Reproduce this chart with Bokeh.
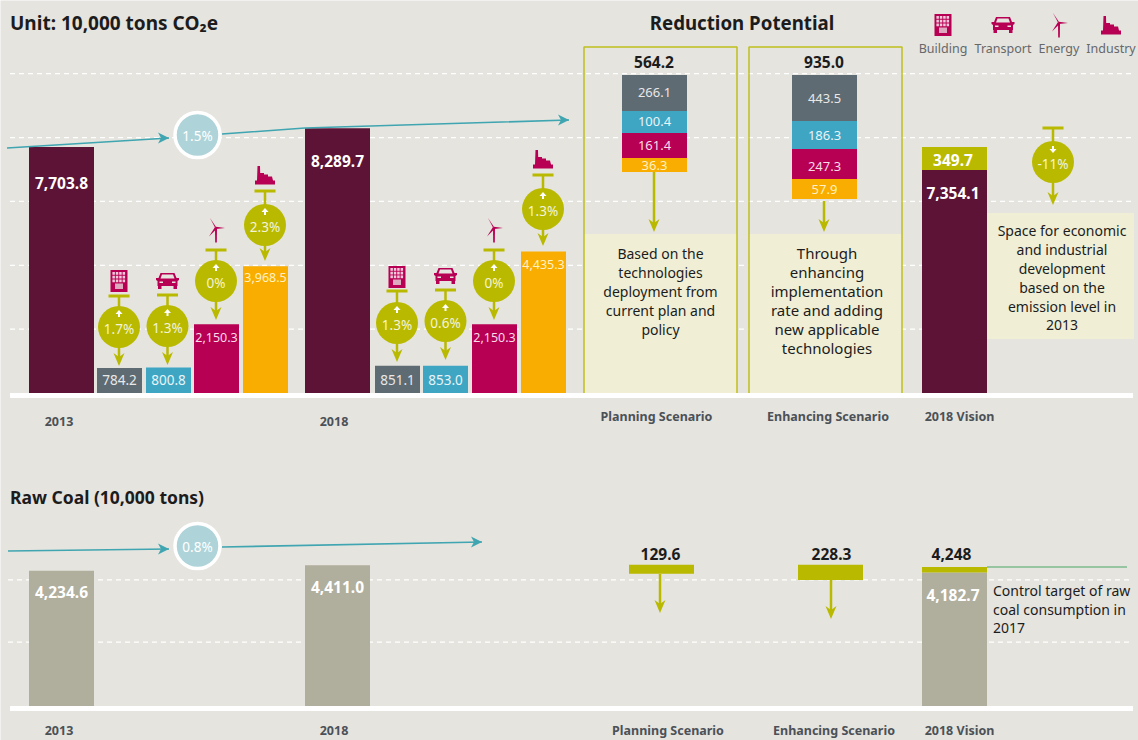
from bokeh.plotting import figure
from bokeh.models import Range1d
from bokeh.core.properties import value
from bokeh.embed import file_html
from bokeh.resources import INLINE

# ---- data ----
years = ["2013", "2018"]
total_co2 = [7703.8, 8289.7]
sector_names = ["Building", "Transport", "Energy", "Industry"]
sectors_2013 = [784.2, 800.8, 2150.3, 3968.5]
sectors_2018 = [851.1, 853.0, 2150.3, 4435.3]
growth_2013 = ["1.7%", "1.3%", "0%", "2.3%"]
growth_2018 = ["1.3%", "0.6%", "0%", "1.3%"]
growth_total = "1.5%"
growth_coal = "0.8%"
grid_co2 = [2000, 4000, 6000, 8000, 10000]
grid_coal = [2000, 3950]

planning_labels = ["266.1", "100.4", "161.4", "36.3"]
enhancing_labels = ["443.5", "186.3", "247.3", "57.9"]
planning_total = "564.2"
enhancing_total = "935.0"
# the infographic's stacks are not to scale: drawn heights, in axis units
planning_drawn = [1127, 689, 783, 438]
enhancing_drawn = [1441, 877, 940, 626]
stack_top = 9959
vision_drawn_base = 6984
vision_drawn_total = 7704
vision_base_label = "7,354.1"
vision_cut_label = "349.7"
vision_gap_label = "-11%"

raw_coal = [4234.6, 4411.0]
coal_labels = ["4,234.6", "4,411.0"]
coal_vision = 4182.7
coal_vision_top_drawn = 4357
coal_cut_labels = ["129.6", "228.3"]
coal_cut_drawn = [282, 470]
coal_cut_top = 4420
coal_vision_labels = ["4,248", "4,182.7"]

text_planning = ["Based on the", "technologies", "deployment from", "current plan and", "policy"]
text_enhancing = ["Through", "enhancing", "implementation", "rate and adding", "new applicable", "technologies"]
text_space = ["Space for economic", "and industrial", "development", "based on the", "emission level in", "2013"]
text_control = ["Control target of raw", "coal consumption in", "2017"]

# ---- styles / layout ----
BG = "#e5e4df"; MAROON = "#5c1336"; GRAY = "#5f6b72"; BLUE = "#3ea5c3"; MAGENTA = "#b70053"
ORANGE = "#f9ad00"; OLIVE = "#b9b900"; TEAL = "#3fa5b0"; PALE = "#aed4d9"; NOTE = "#f0efd6"
COAL = "#b0ae9d"; INK = "#1c1c1c"; AXIS = "#4b5157"; LEG = "#66686a"
FONT = value("Noto Sans")
K = 0.03193  # px per unit
BASE_CO2, BASE_COAL = 393, 706

p = figure(width=1138, height=740, output_backend="svg", toolbar_location=None,
           x_range=Range1d(0.5, 1138.5), y_range=Range1d(740.5, 0.5),
           x_axis_location=None, y_axis_location=None, min_border=0,
           background_fill_color=BG, border_fill_color=BG, outline_line_color=None,
           styles={"position": "absolute", "left": "0px", "top": "0px"})
p.grid.visible = False
p.extra_y_ranges = {
    "co2": Range1d(-(740.5 - BASE_CO2) / K, (BASE_CO2 - 0.5) / K),
    "coal": Range1d(-(740.5 - BASE_COAL) / K, (BASE_COAL - 0.5) / K),
}


def txt(x, y, s, size, color=INK, bold=False, align="center"):
    p.text(x=[x], y=[y], text=[s], text_font=FONT, text_font_size=f"{size}px", text_color=color,
           text_font_style="bold" if bold else "normal", text_align=align, text_baseline="middle")


def poly(xs, ys, color):
    p.patch(xs, ys, fill_color=color, line_color=None)


def arrow_down(x, y0, y1, color=OLIVE):
    p.line([x, x], [y0, y1 - 6], line_color=color, line_width=2.5)
    poly([x, x - 5.5, x, x + 5.5], [y1, y1 - 13, y1 - 9, y1 - 13], color)


def arrow_teal(xs, ys):
    p.line(xs, ys, line_color=TEAL, line_width=1.6)
    x, y = xs[-1], ys[-1]
    poly([x, x - 11, x - 8, x - 11], [y, y - 5.5, y, y + 5.5], TEAL)


def callout(cx, cy, tee, tip, label, down=False):
    p.quad(left=[cx - 10.5], right=[cx + 10.5], top=[tee - 1.5], bottom=[tee + 1.5], fill_color=OLIVE, line_color=None)
    p.line([cx, cx], [tee, cy], line_color=OLIVE, line_width=2.5)
    arrow_down(cx, cy, tip)
    p.circle(x=[cx], y=[cy], radius=21, fill_color=OLIVE, line_color=None)
    ay = cy - 14
    if down:
        poly([cx - 3.5, cx + 3.5, cx], [ay + 1, ay + 1, ay + 5], "white")
        p.quad(left=[cx - 1], right=[cx + 1], top=[ay - 2], bottom=[ay + 1], fill_color="white", line_color=None)
    else:
        poly([cx - 3.5, cx + 3.5, cx], [ay + 1, ay + 1, ay - 3], "white")
        p.quad(left=[cx - 1], right=[cx + 1], top=[ay + 1], bottom=[ay + 4], fill_color="white", line_color=None)
    txt(cx, cy + 2, label, 13.5, "#f4f4d8")


def building(cx, y):
    p.quad(left=[cx - 8.5], right=[cx + 8.5], top=[y], bottom=[y + 22], fill_color=MAGENTA, line_color=None)
    for r in range(3):
        for c in range(4):
            x0 = cx - 6.6 + c * 3.4
            y0 = y + 2 + r * 3.7
            p.quad(left=[x0], right=[x0 + 2.5], top=[y0], bottom=[y0 + 2.8], fill_color="#f1c9dc", line_color=None)
    p.quad(left=[cx - 4], right=[cx + 4], top=[y + 13.5], bottom=[y + 19], fill_color="#dca9bf", line_color=None)


def car(cx, y):
    poly([cx - 7, cx + 7, cx + 9, cx + 11.5, cx + 11.5, cx + 10, cx + 10, cx - 10, cx - 10, cx - 11.5, cx - 11.5, cx - 9],
         [y, y, y + 5, y + 5, y + 7, y + 8, y + 13, y + 13, y + 8, y + 7, y + 5, y + 5], MAGENTA)
    poly([cx - 5.5, cx + 5.5, cx + 7, cx - 7], [y + 1.6, y + 1.6, y + 5.5, y + 5.5], BG)
    p.quad(left=[cx - 8, cx + 4.5], right=[cx - 4.5, cx + 8], top=[y + 8.5, y + 8.5], bottom=[y + 10, y + 10],
           fill_color=BG, line_color=None)
    p.quad(left=[cx - 9.5, cx + 6], right=[cx - 6, cx + 9.5], top=[y + 13, y + 13], bottom=[y + 16, y + 16],
           fill_color=MAGENTA, line_color=None)


def turbine(cx, y):
    hx, hy = cx, y + 10
    poly([hx - 1, hx + 1, hx + 0.8, hx - 0.8], [hy, hy, y + 24.5, y + 24.5], MAGENTA)
    poly([hx - 1, hx + 1, hx - 6], [hy - 0.5, hy + 0.5, hy - 10], MAGENTA)
    poly([hx, hx, hx + 9], [hy - 1.2, hy + 1, hy], MAGENTA)
    poly([hx - 1, hx + 1, hx - 7], [hy - 1, hy + 0.6, hy + 8.5], MAGENTA)


def factory(cx, y):
    poly([cx - 10, cx - 10, cx - 8, cx - 7.5, cx - 5, cx - 4.8, cx - 1, cx - 1, cx + 3, cx + 3, cx + 7, cx + 8, cx + 10, cx + 10],
         [y + 18.5, y + 14.5, y + 14.5, y, y, y + 7, y + 7, y + 8.5, y + 8.5, y + 10.5, y + 10.5, y + 14.5, y + 14.5, y + 18.5], MAGENTA)


ICONS = [building, car, turbine, factory]

# ---- grid lines ----
p.segment(x0=[10] * 5, x1=[1133] * 5, y0=grid_co2, y1=grid_co2, y_range_name="co2",
          line_color="white", line_width=1.3, line_dash="5 4")
p.segment(x0=[8] * 2, x1=[1133] * 2, y0=grid_coal, y1=grid_coal, y_range_name="coal",
          line_color="white", line_width=1.3, line_dash="5 4")

# ---- note boxes ----
for left in (584, 749):
    p.quad(left=[left], right=[left + 153], top=[234], bottom=[393], fill_color=NOTE, line_color=None)
    p.line([left, left, left + 153, left + 153], [393, 47, 47, 393], line_color="#bfbf1e", line_width=1.5)
p.quad(left=[987], right=[1134], top=[213], bottom=[339], fill_color=NOTE, line_color=None)

# ---- totals ----
TOTAL_X = [61.5, 337.5]
p.vbar(x=TOTAL_X, width=65, top=total_co2, bottom=0, y_range_name="co2", fill_color=MAROON, line_color=None)
p.vbar(x=TOTAL_X, width=65, top=raw_coal, bottom=0, y_range_name="coal", fill_color=COAL, line_color=None)

# ---- sectors ----
X13 = [119.5, 168.5, 216.5, 265.5]
X18 = [397.5, 445.5, 494.5, 543.5]
SECT_COL = [GRAY, BLUE, MAGENTA, ORANGE]
p.vbar(x=X13, width=45, top=sectors_2013, bottom=0, y_range_name="co2", fill_color=SECT_COL, line_color=None)
p.vbar(x=X18, width=45, top=sectors_2018, bottom=0, y_range_name="co2", fill_color=SECT_COL, line_color=None)

# ---- stacks ----
for cx, drawn in ((654.5, planning_drawn), (824.5, enhancing_drawn)):
    tops, bots, t = [], [], stack_top
    for d in drawn:
        tops.append(t); bots.append(t - d); t -= d
    p.vbar(x=[cx] * 4, width=65, top=tops, bottom=bots, y_range_name="co2", fill_color=SECT_COL, line_color=None)

# ---- vision ----
p.vbar(x=[954.5], width=65, top=[vision_drawn_base], bottom=[0], y_range_name="co2", fill_color=MAROON, line_color=None)
p.vbar(x=[954.5], width=65, top=[vision_drawn_total], bottom=[vision_drawn_base], y_range_name="co2", fill_color=OLIVE, line_color=None)
p.vbar(x=[954.5], width=65, top=[coal_vision], bottom=[0], y_range_name="coal", fill_color=COAL, line_color=None)
p.vbar(x=[954.5], width=65, top=[coal_vision_top_drawn], bottom=[coal_vision], y_range_name="coal", fill_color=OLIVE, line_color=None)
p.line([987, 1127], [567, 567], line_color="#4aa564", line_width=1.2)
p.vbar(x=[661.5, 830.5], width=65, top=[coal_cut_top] * 2,
       bottom=[coal_cut_top - coal_cut_drawn[0], coal_cut_top - coal_cut_drawn[1]],
       y_range_name="coal", fill_color=OLIVE, line_color=None)

# ---- base lines ----
p.quad(left=[10, 10], right=[1133, 1133], top=[393, 706], bottom=[398, 711], fill_color="white", line_color=None)

# ---- trend arrows ----
arrow_teal([7, 169], [148, 138])
arrow_teal([222, 305, 569], [134, 128, 120])
arrow_teal([8, 169], [551, 549])
arrow_teal([222, 482], [547, 542])
for cy, lab in ((135, growth_total), (546, growth_coal)):
    p.circle(x=[197.5], y=[cy], radius=22.5, fill_color=PALE, line_color="white", line_width=3.5)
    txt(197.5, cy + 1, lab, 13.5, "white")

# ---- callouts + icons ----
C13 = [(119, 327, 296, 366, 270), (167.5, 326, 295, 365, 273), (216, 281, 250, 320, 218), (265, 225, 191, 261, 166)]
C18 = [(397, 323, 291, 362, 266), (445.5, 321, 290, 360, 268), (494, 281, 250, 320, 218), (543, 209, 175, 246, 150)]
for layout, labs in ((C13, growth_2013), (C18, growth_2018)):
    for (cx, cy, tee, tip, iy), lab, icon in zip(layout, labs, ICONS):
        callout(cx, cy, tee, tip, lab)
        icon(cx, iy)
callout(1053, 162, 128, 205, vision_gap_label, down=True)
arrow_down(654, 172, 232)
arrow_down(824, 201, 232)
arrow_down(660, 574, 613)
arrow_down(831, 580, 619)

# ---- legend ----
LEG_X = [943, 1003, 1059, 1111]
LEG_Y = [14, 17, 13, 16]
for x, y, icon, name in zip(LEG_X, LEG_Y, ICONS, sector_names):
    icon(x, y)
    txt(x, 48, name, 12.5, LEG)

# ---- value labels ----
for x, y, s in zip(TOTAL_X, [183, 161], ["7,703.8", "8,289.7"]):
    txt(x, y, s, 15.5, "white", True)
for x, y, s in zip(TOTAL_X, [592, 587], coal_labels):
    txt(x, y, s, 15.5, "white", True)
SECT_TXT = ["#e8e8e8", "#e8f4f8", "#f8dce8", "#fff2c4"]
for xs, ys, vals in ((X13, [380, 380, 337, 277], sectors_2013), (X18, [380, 380, 337, 264], sectors_2018)):
    for x, y, v, c in zip(xs, ys, vals, SECT_TXT):
        s = f"{v:,.1f}"
        txt(x, y, s, 13.5 if v < 1000 else 12.5, c)
for cx, ys, labs in ((654.5, [92, 121, 145, 165], planning_labels), (824.5, [98, 135, 166, 189], enhancing_labels)):
    for y, s, c in zip(ys, labs, SECT_TXT):
        txt(cx, y, s, 13, c)
txt(654, 62, planning_total, 15.5, INK, True)
txt(824, 62, enhancing_total, 15.5, INK, True)
txt(953, 160, vision_cut_label, 15.5, "white", True)
txt(953, 193, vision_base_label, 15.5, "white", True)
txt(660.5, 554, coal_cut_labels[0], 15.5, INK, True)
txt(831.5, 554, coal_cut_labels[1], 15.5, INK, True)
txt(951.5, 554, coal_vision_labels[0], 15.5, INK, True)
txt(953, 595, coal_vision_labels[1], 15.5, "white", True)

# ---- notes ----
for cx, y0, size, lines in ((660.5, 253, 14, text_planning), (827, 252.5, 15, text_enhancing), (1062, 230, 14, text_space)):
    for i, s in enumerate(lines):
        txt(cx, y0 + 19 * i, s, size, INK)
for i, s in enumerate(text_control):
    txt(993, 590 + 19 * i, s, 14, INK, align="left")

# ---- category labels ----
for x, y in ((59, 421), (59, 730.5)):
    txt(x, y, years[0], 12.5, AXIS, True)
for x, y in ((334, 421), (334, 730.5)):
    txt(x, y, years[1], 12.5, AXIS, True)
for x, y, s in ((656.5, 416, "Planning Scenario"), (828, 416, "Enhancing Scenario"), (959.5, 416, "2018 Vision"),
                (668, 730, "Planning Scenario"), (834, 730, "Enhancing Scenario"), (959.5, 730, "2018 Vision")):
    txt(x, y, s, 12.5, AXIS, True)

# ---- titles ----
txt(10, 22.5, "Unit: 10,000 tons CO₂e", 19, INK, True, "left")
txt(742, 22, "Reduction Potential", 18.7, INK, True)
txt(10, 497, "Raw Coal (10,000 tons)", 17.5, INK, True, "left")

open("out.html", "w").write(file_html(p, INLINE))
